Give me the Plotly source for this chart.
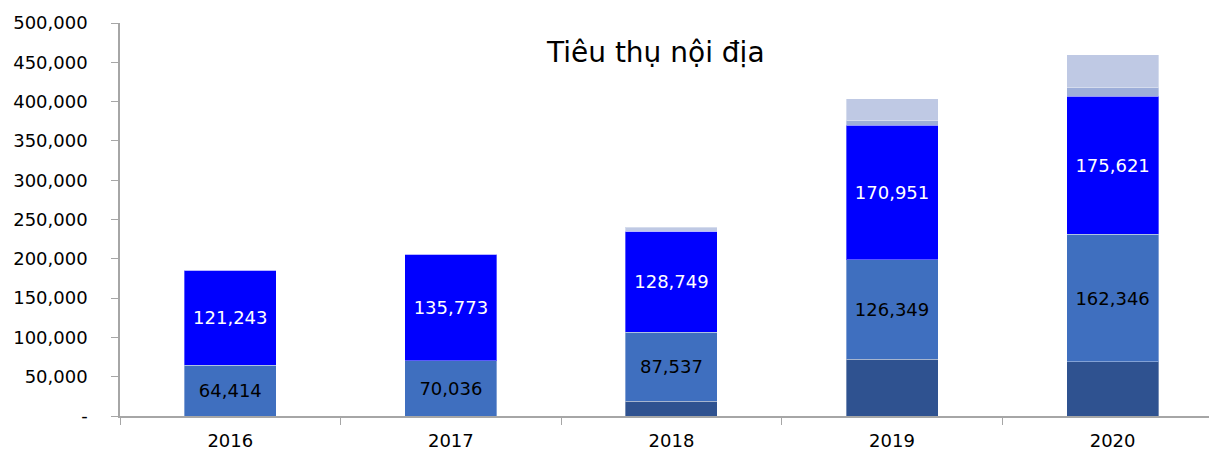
import plotly.graph_objects as go

years = ["2016", "2017", "2018", "2019", "2020"]
seg_dark = [0, 0, 19000, 72300, 68900]
seg_medium = [64414, 70036, 87537, 126349, 162346]
seg_blue = [121243, 135773, 128749, 170951, 175621]
seg_lavender = [0, 0, 0, 6400, 11000]
seg_light = [0, 0, 4600, 27700, 41700]

y_tickvals = [0, 50000, 100000, 150000, 200000, 250000, 300000, 350000, 400000, 450000, 500000]
y_ticktext = ["-", "50,000", "100,000", "150,000", "200,000", "250,000",
              "300,000", "350,000", "400,000", "450,000", "500,000"]

title_text = "Tiêu thụ nội địa"

FONT = "DejaVu Sans"
edge = dict(color="rgba(255,255,255,0.35)", width=1)

fig = go.Figure()
fig.add_trace(go.Bar(x=years, y=seg_dark, name="Nhóm 1",
                     marker=dict(color="#2F5290", line=edge)))
fig.add_trace(go.Bar(x=years, y=seg_medium, name="Nhóm 2",
                     marker=dict(color="#3F6FBF", line=edge),
                     text=[f"{v:,}" for v in seg_medium],
                     textposition="inside", insidetextanchor="middle", textangle=0,
                     textfont=dict(family=FONT, size=18, color="black")))
fig.add_trace(go.Bar(x=years, y=seg_blue, name="Nhóm 3",
                     marker=dict(color="#0000FF", line=edge),
                     text=[f"{v:,}" for v in seg_blue],
                     textposition="inside", insidetextanchor="middle", textangle=0,
                     textfont=dict(family=FONT, size=18, color="white")))
fig.add_trace(go.Bar(x=years, y=seg_lavender, name="Nhóm 4",
                     marker=dict(color="#9DAED9", line=edge)))
fig.add_trace(go.Bar(x=years, y=seg_light, name="Nhóm 5",
                     marker=dict(color="#BFC9E4", line=edge)))

fig.update_layout(
    barmode="stack",
    bargap=0.583,
    width=1209, height=454,
    margin=dict(l=120, r=0, t=23, b=38),
    plot_bgcolor="white", paper_bgcolor="white",
    showlegend=False,
    font=dict(family=FONT, size=18, color="black"),
    uniformtext=dict(minsize=18, mode="show"),
    annotations=[dict(text=title_text, xref="paper", yref="paper",
                      x=0.492, y=0.924, xanchor="center", yanchor="middle",
                      showarrow=False, font=dict(family=FONT, size=28, color="black"))],
)
fig.update_xaxes(
    type="category", range=[-0.5, 4.437],
    showline=True, linecolor="#A6A6A6", linewidth=1.5,
    ticks="outside", tickson="boundaries", ticklen=7, tickcolor="#A6A6A6",
    showgrid=False, ticklabelstandoff=8,
    tickfont=dict(family=FONT, size=18, color="black"),
)
fig.update_yaxes(
    range=[0, 500000], tickvals=y_tickvals, ticktext=y_ticktext,
    showline=True, linecolor="#A6A6A6", linewidth=1.5,
    ticks="outside", ticklen=7, tickcolor="#A6A6A6",
    showgrid=False, zeroline=False, ticklabelstandoff=20,
    tickfont=dict(family=FONT, size=18, color="black"),
)

fig.write_html("out.html",
               config={"displayModeBar": False},
               post_script="document.body.style.margin='0';document.body.style.overflow='hidden';")
